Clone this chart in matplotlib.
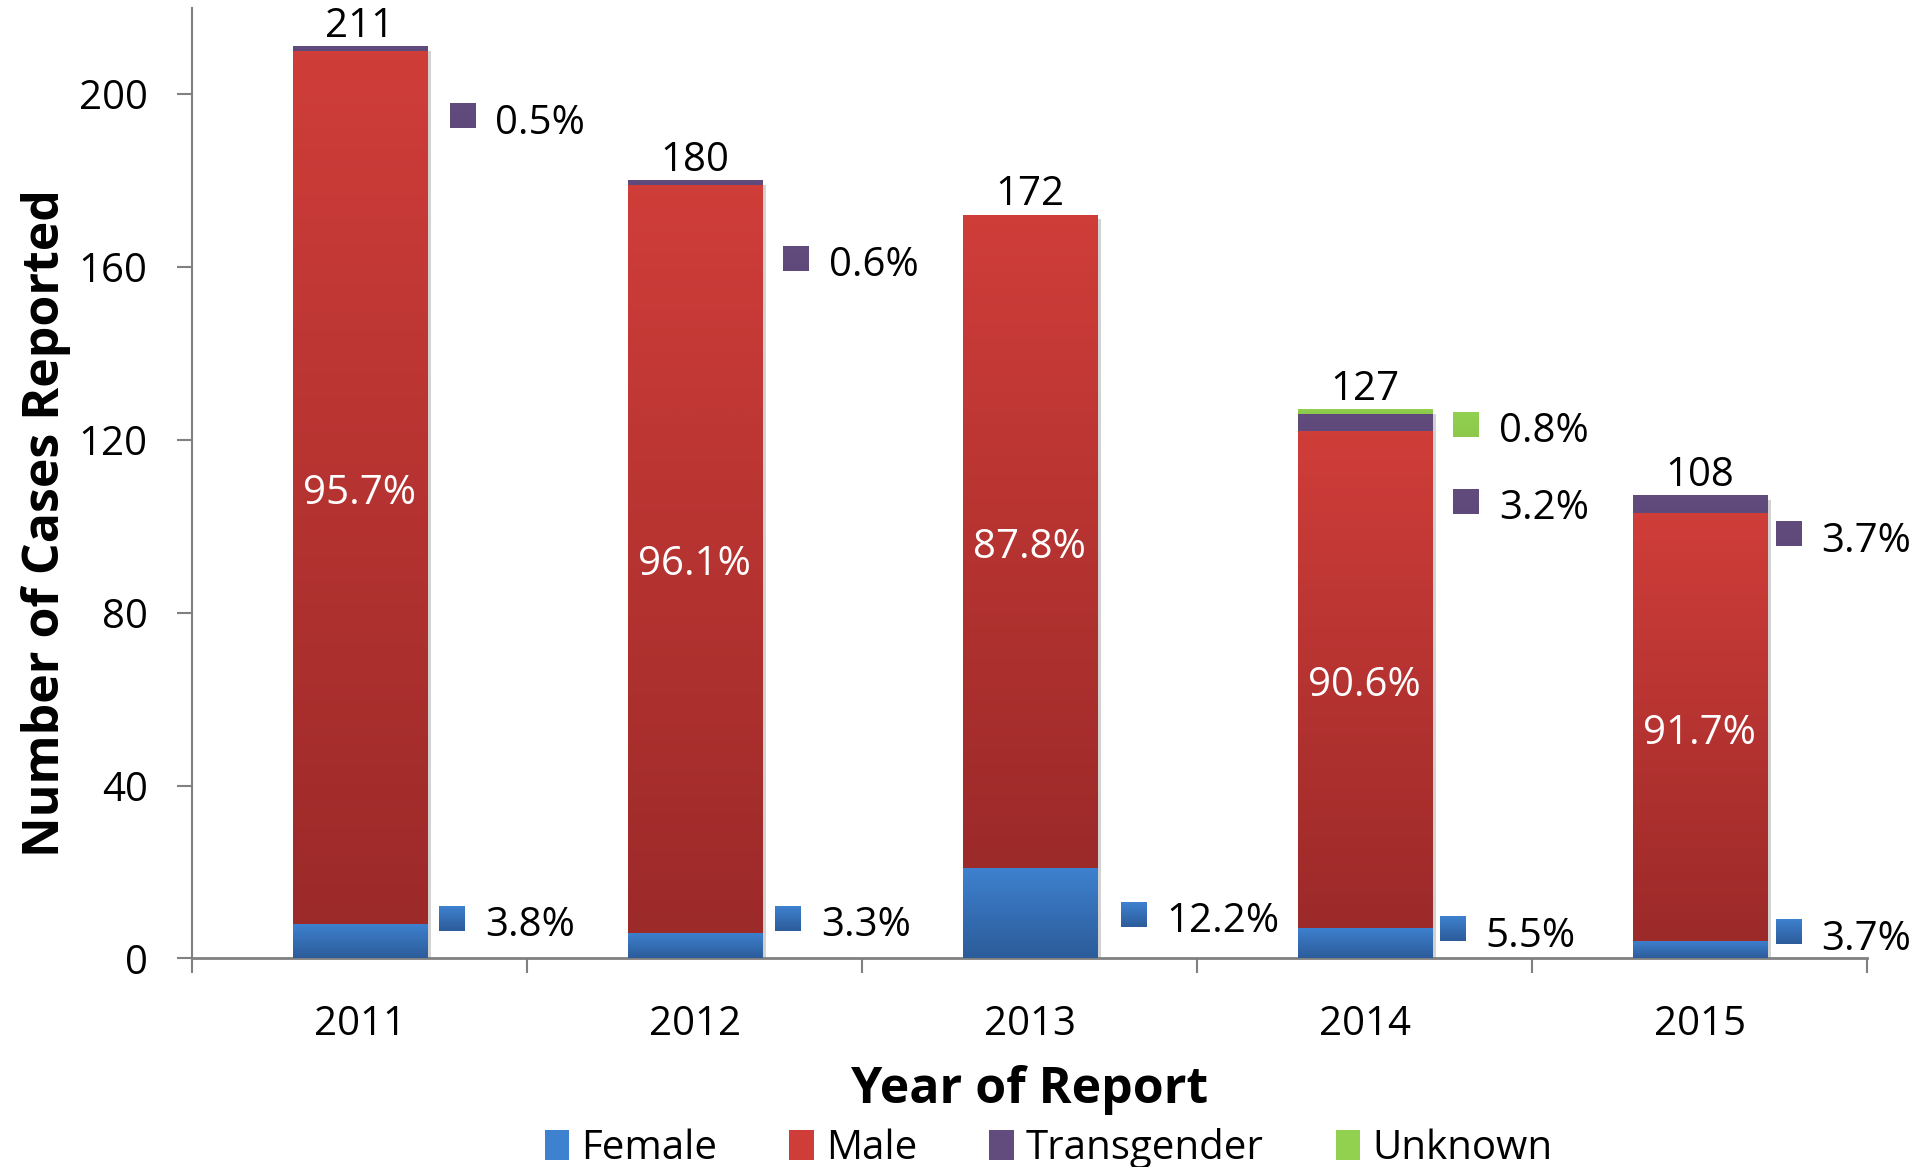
import matplotlib.pyplot as plt
import matplotlib.patheffects as pe
from matplotlib.colors import LinearSegmentedColormap
from matplotlib.patches import Patch
import numpy as np

plt.rcParams['font.family'] = ['Open Sans', 'DejaVu Sans']

years = ['2011', '2012', '2013', '2014', '2015']
totals = [211, 180, 172, 127, 108]
female_pct = [3.8, 3.3, 12.2, 5.5, 3.7]
male_pct = [95.7, 96.1, 87.8, 90.6, 91.7]
trans_pct = [0.5, 0.6, 0.0, 3.2, 3.7]
unknown_pct = [0.0, 0.0, 0.0, 0.8, 0.0]

# where the little side tags sit: (x offset from bar centre, y value)
female_tag = [(0.277, 9.3), (0.279, 9.3), (0.31, 10.2), (0.263, 6.8), (0.266, 6.2)]
trans_tag = [(0.307, 195), (0.303, 162), None, (0.303, 105.8), (0.266, 98.2)]
unknown_tag = [None, None, None, (0.303, 123.6), None]

# colours (top, bottom) for the gradient fills
BLUE = ('#3e81cf', '#2c5c9a')
RED = ('#cf3d39', '#9c2a29')
PURPLE = ('#624c7e', '#5e497a')
GREEN = ('#92d050', '#8cc94b')

tot = np.array(totals, float)
female = np.round(tot * np.array(female_pct) / 100)
male = np.round(tot * np.array(male_pct) / 100)
trans = np.round(tot * np.array(trans_pct) / 100)
unknown = np.round(tot * np.array(unknown_pct) / 100)

x = np.arange(len(years))
fs = 29


def grad(ax, x0, x1, y0, y1, cols, z=3):
    cmap = LinearSegmentedColormap.from_list('g', [cols[1], cols[0]])
    ax.imshow(np.linspace(0, 1, 64).reshape(-1, 1), extent=(x0, x1, y0, y1),
              origin='lower', cmap=cmap, aspect='auto', zorder=z,
              interpolation='bilinear')


fig = plt.figure(figsize=(19.17, 11.67), dpi=100)
ax = fig.add_axes([0.1002, 0.1787, 0.8738, 0.8147])

shadow = [pe.SimplePatchShadow(offset=(3, -3), shadow_rgbFace='#808080', alpha=0.35), pe.Normal()]
bottoms = np.zeros(len(years))
for vals, cols in [(female, BLUE), (male, RED), (trans, PURPLE), (unknown, GREEN)]:
    bars = ax.bar(x, vals, width=0.4, bottom=bottoms, color=cols[0], zorder=2)
    for b in bars:
        if b.get_height() <= 0:
            b.set_visible(False)
            continue
        b.set_path_effects(shadow)
        grad(ax, b.get_x(), b.get_x() + b.get_width(), b.get_y(),
             b.get_y() + b.get_height(), cols)
    bottoms = bottoms + vals

# totals above each stack
for i, t in enumerate(totals):
    ax.annotate(str(t), (x[i], bottoms[i]), xytext=(0, 7), textcoords='offset points',
                ha='center', va='baseline', fontsize=fs, color='black')

# male share written inside the red segment
for i, p in enumerate(male_pct):
    ax.text(x[i], female[i] + male[i] / 2 - 1.5, f'{p}%', color='white',
            ha='center', va='center', fontsize=fs, zorder=5)

# side tags with a colour key
sq_w, sq_h = 0.077, 5.7
for tags, pcts, cols in [(female_tag, female_pct, BLUE), (trans_tag, trans_pct, PURPLE),
                         (unknown_tag, unknown_pct, GREEN)]:
    for i, tag in enumerate(tags):
        if tag is None:
            continue
        dx, y = tag
        cx = x[i] + dx
        grad(ax, cx - sq_w / 2, cx + sq_w / 2, y - sq_h / 2, y + sq_h / 2, cols)
        ax.text(cx + 0.098, y - 1.8, f'{pcts[i]}%', ha='left', va='center',
                fontsize=fs, color='black', zorder=5)

ax.set_xlim(-0.5, 4.5)
ax.set_ylim(0, 220)
ax.set_yticks(np.arange(0, 201, 40))
ax.set_xticks(x)
ax.set_xticklabels(years)
ax.set_xticks(np.arange(-0.5, 4.6, 1), minor=True)
ax.tick_params(axis='x', which='major', length=0, pad=33, labelsize=fs)
ax.tick_params(axis='x', which='minor', length=11, width=1.5, color='#808080', direction='out')
ax.tick_params(axis='y', length=11, width=1.5, color='#808080', pad=21, labelsize=fs)

for s in ['top', 'right']:
    ax.spines[s].set_visible(False)
ax.spines['left'].set_color('#808080')
ax.spines['left'].set_linewidth(1.5)
ax.spines['bottom'].set_color('#808080')
ax.spines['bottom'].set_linewidth(2)

ax.set_xlabel('Year of Report', fontsize=36, fontweight='bold', va='center')
ax.xaxis.set_label_coords(0.5, -0.138)
ax.set_ylabel('Number of Cases Reported', fontsize=36, fontweight='bold', va='center')
ax.yaxis.set_label_coords(-0.087, 0.458)

handles = [Patch(facecolor=BLUE[0], label='Female'), Patch(facecolor=RED[0], label='Male'),
           Patch(facecolor=PURPLE[0], label='Transgender'), Patch(facecolor=GREEN[0], label='Unknown')]
fig.legend(handles=handles, loc='center', bbox_to_anchor=(0.547, 0.016), ncol=4, frameon=False,
           fontsize=fs, handlelength=0.6, handleheight=0.75, handletextpad=0.3, columnspacing=1.8)

fig.savefig('out.png', dpi=100)
